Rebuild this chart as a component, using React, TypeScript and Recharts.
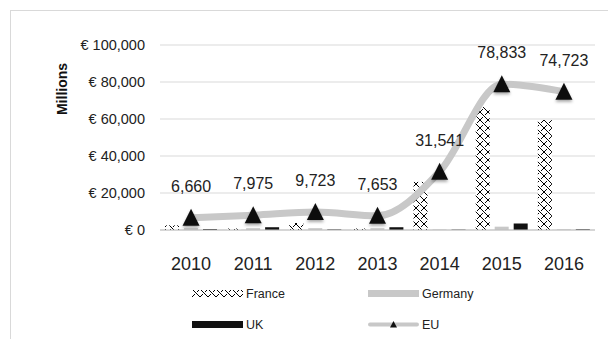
import {
    ComposedChart,
    Bar,
    Line,
    XAxis,
    YAxis,
    CartesianGrid,
    Legend,
    LabelList,
} from "recharts";

const years = ["2010", "2011", "2012", "2013", "2014", "2015", "2016"];
const france = [2500, 800, 3800, 800, 26000, 66500, 59500];
const germany = [1000, 1000, 1000, 1000, 300, 1800, 400];
const uk = [500, 1500, 300, 1500, 200, 3500, 400];
const eu = [6660, 7975, 9723, 7653, 31541, 78833, 74723];
const yTicks = [0, 20000, 40000, 60000, 80000, 100000];

const data = years.map((year, i) => ({
    year,
    France: france[i],
    Germany: germany[i],
    UK: uk[i],
    EU: eu[i],
}));

const FONT = "'Liberation Sans', Arial, sans-serif";
const GREY = "#c8c8c8";

// dotted diamond pattern used for France
const PatternDefs = ({ id }: { id: string }) => {
    const px = [];
    for (let i = 0; i < 8; i++) {
        px.push(<rect key={"a" + i} x={i} y={i} width={1} height={1} fill="#000" />);
        if (i !== 3 && i !== 4) {
            px.push(<rect key={"b" + i} x={7 - i} y={i} width={1} height={1} fill="#000" />);
        }
    }
    return (
        <defs>
            <pattern id={id} patternUnits="userSpaceOnUse" width={8} height={8}>
                <rect width={8} height={8} fill="#fff" />
                {px}
            </pattern>
            <filter id="shadow" x="-50%" y="-50%" width="200%" height="200%">
                <feDropShadow dx="0" dy="2" stdDeviation="1.6" floodColor="#000" floodOpacity="0.35" />
            </filter>
        </defs>
    );
};

const Triangle = (props: any) => {
    const { cx, cy, index } = props;
    if (cx == null || cy == null) return null;
    return (
        <path
            key={"tri" + index}
            d={`M${cx},${cy - 9} L${cx + 8.5},${cy + 8} L${cx - 8.5},${cy + 8} Z`}
            fill="#111"
            filter="url(#shadow)"
        />
    );
};

const legendItems = [
    { name: "France", kind: "pattern" },
    { name: "Germany", kind: "grey" },
    { name: "UK", kind: "black" },
    { name: "EU", kind: "line" },
];

const LegendSymbol = ({ kind }: { kind: string }) => (
    <svg width={51} height={9} style={{ display: "block" }}>
        {kind === "pattern" && <rect x={0} y={1} width={51} height={7} fill="url(#fr-pattern)" />}
        {kind === "grey" && <rect x={0} y={1} width={51} height={7} fill={GREY} />}
        {kind === "black" && <rect x={0} y={1} width={51} height={7} fill="#111" />}
        {kind === "line" && (
            <g>
                <line x1={2} y1={4.5} x2={49} y2={4.5} stroke={GREY} strokeWidth={4} strokeLinecap="round" />
                <path d="M25.5,1 L29,7.5 L22,7.5 Z" fill="#111" />
            </g>
        )}
    </svg>
);

const renderLegend = () => (
    <div style={{ display: "grid", gridTemplateColumns: "176px 120px", rowGap: 22, fontFamily: FONT, fontSize: 12.5, color: "#222" }}>
        {legendItems.map((item) => (
            <div key={item.name} style={{ display: "flex", alignItems: "center", height: 9 }}>
                <LegendSymbol kind={item.kind} />
                <span style={{ marginLeft: 3 }}>{item.name}</span>
            </div>
        ))}
    </div>
);

const MillionsLabel = (props: any) => {
    const vb = props.viewBox || { x: 0, y: 0, width: 0 };
    const x = vb.x + vb.width - 98;
    const y = vb.y + 44;
    return (
        <text
            x={x}
            y={y}
            transform={`rotate(-90 ${x} ${y})`}
            textAnchor="middle"
            dominantBaseline="central"
            fontFamily={FONT}
            fontSize={14}
            fontWeight="bold"
            fill="#111"
        >
            Millions
        </text>
    );
};

export default function App() {
    return (
        <div style={{ position: "relative", width: 600, height: 331, fontFamily: FONT }}>
            <div
                style={{
                    position: "absolute",
                    left: 2,
                    top: 2,
                    width: 606,
                    height: 337,
                    boxSizing: "border-box",
                    borderLeft: "1px solid #d9d9d9",
                    borderTop: "1px solid #d9d9d9",
                }}
            />
            <svg width={0} height={0} style={{ position: "absolute" }}>
                <PatternDefs id="fr-pattern" />
            </svg>
            <div style={{ position: "absolute", left: 0, top: 0 }}>
                <ComposedChart
                    width={600}
                    height={331}
                    data={data}
                    margin={{ top: 37, right: 13, left: 62, bottom: 79 }}
                    barCategoryGap="8%"
                    barGap={5}
                >
                    <CartesianGrid vertical={false} stroke="#d9d9d9" />
                    <XAxis
                        dataKey="year"
                        tickLine={false}
                        tickSize={0}
                        tickMargin={27}
                        axisLine={{ stroke: "#bfbfbf" }}
                        tick={{ fontSize: 18, fill: "#222", fontFamily: FONT }}
                    />
                    <YAxis
                        domain={[0, 100000]}
                        ticks={yTicks}
                        width={90}
                        axisLine={false}
                        tickLine={false}
                        tickSize={0}
                        tickMargin={15}
                        tick={{ fontSize: 14.5, fill: "#222", fontFamily: FONT }}
                        tickFormatter={(v: number) => "€ " + v.toLocaleString("en-US")}
                        label={<MillionsLabel />}
                    />
                    <Legend
                        layout="horizontal"
                        verticalAlign="middle"
                        align="center"
                        content={renderLegend}
                        wrapperStyle={{ left: 184, top: 281, width: 300 }}
                    />
                    <Bar dataKey="France" fill="url(#fr-pattern)" isAnimationActive={false} />
                    <Bar dataKey="Germany" fill={GREY} isAnimationActive={false} />
                    <Bar dataKey="UK" fill="#111" isAnimationActive={false} />
                    <Line
                        dataKey="EU"
                        type="monotone"
                        stroke={GREY}
                        strokeWidth={7}
                        dot={<Triangle />}
                        activeDot={false}
                        isAnimationActive={false}
                    >
                        <LabelList
                            dataKey="EU"
                            position="top"
                            offset={26}
                            fontSize={16}
                            fill="#222"
                            fontFamily={FONT}
                            formatter={(v: any) => Number(v).toLocaleString("en-US")}
                        />
                    </Line>
                </ComposedChart>
            </div>
        </div>
    );
}
